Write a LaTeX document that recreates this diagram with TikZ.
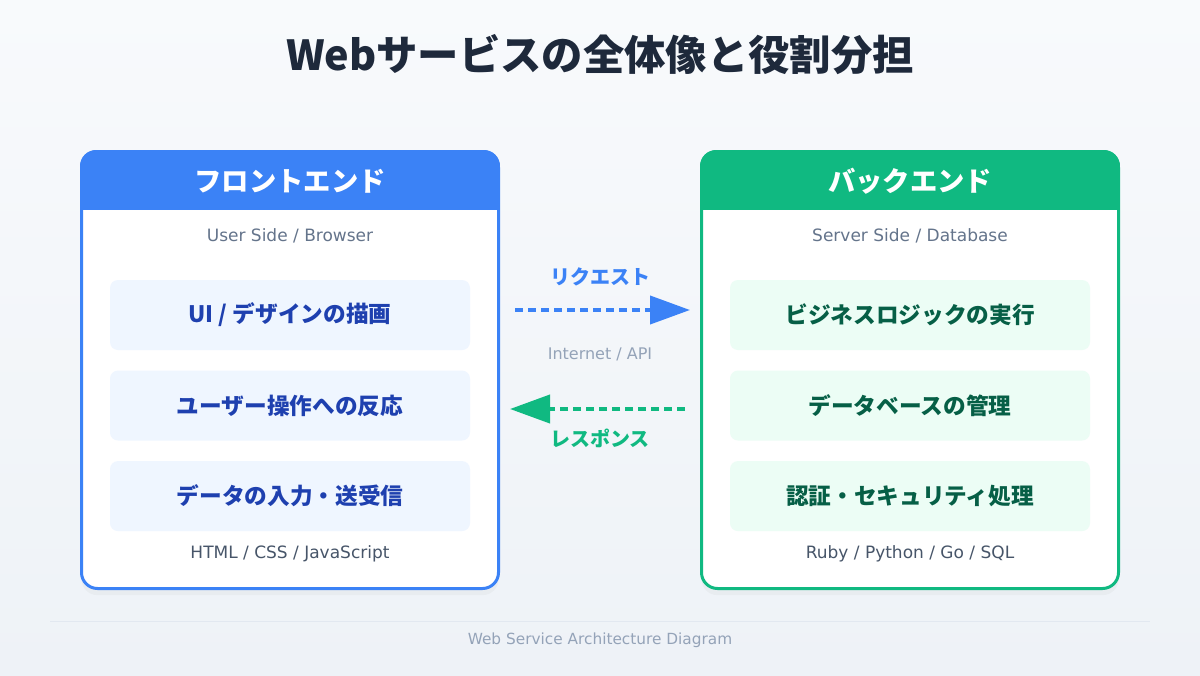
\documentclass[tikz,border=0pt]{standalone}
\usepackage{fontspec}
\setmainfont{Noto Sans CJK JP}
\newfontfamily\latinfont{DejaVu Sans}
\usetikzlibrary{arrows.meta, positioning, shadows}
\definecolor{PageBg}{HTML}{EEF2F7}
\definecolor{PageBgLight}{HTML}{F8FAFC}
\definecolor{Ink}{HTML}{1E293B}
\definecolor{FrontBlue}{HTML}{3B82F6}
\definecolor{FrontTint}{HTML}{EFF6FF}
\definecolor{FrontInk}{HTML}{1E40AF}
\definecolor{BackGreen}{HTML}{10B981}
\definecolor{BackTint}{HTML}{ECFDF5}
\definecolor{BackInk}{HTML}{065F46}
\definecolor{Slate}{HTML}{64748B}
\definecolor{SlateDark}{HTML}{475569}
\definecolor{SlateLight}{HTML}{94A3B8}
\definecolor{RuleGray}{HTML}{E2E8F0}

\tikzset{
  card/.style={draw=#1, line width=2.25pt, fill=white, rounded corners=12pt,
    minimum width=312.75pt, minimum height=327.75pt,
    drop shadow={opacity=0.06, shadow xshift=0pt, shadow yshift=-5pt}},
  headtext/.style={text=white, font=\fontsize{20.5}{24}\selectfont\bfseries},
  taskbox/.style={fill=#1, rounded corners=6pt, minimum width=270pt, minimum height=52.5pt,
    font=\fontsize{17}{20}\selectfont\bfseries},
  subnote/.style={font=\latinfont\fontsize{12.75}{15}\selectfont},
  flow/.style={line width=3pt, dash pattern=on 6pt off 3.75pt,
    -{Triangle[length=30pt, width=21pt]}},
}

\begin{document}
\begin{tikzpicture}[x=0.75pt, y=-0.75pt]
\shade[top color=PageBgLight, bottom color=PageBg] (0,0) rectangle (1200,675);
\useasboundingbox (0,0) rectangle (1200,675);

\node[font=\fontsize{31}{36}\selectfont\bfseries, text=Ink] (title) at (600,55) {Webサービスの全体像と役割分担};

% frontend
\node[card=FrontBlue] (front) at (290,370) {};
\begin{scope}
  \clip[rounded corners=12pt] (front.south west) rectangle (front.north east);
  \fill[FrontBlue] (front.north west) rectangle ([yshift=-45pt]front.north east);
\end{scope}
\node[headtext] (fronthead) at (290,181) {フロントエンド};
\node[subnote, text=Slate] (frontside) at (290,236) {User Side / Browser};
\node[taskbox=FrontTint, text=FrontInk] (f1) at (290,315) {UI / デザインの描画};
\node[taskbox=FrontTint, text=FrontInk, below=15pt of f1] (f2) {ユーザー操作への反応};
\node[taskbox=FrontTint, text=FrontInk, below=15pt of f2] (f3) {データの入力・送受信};
\node[subnote, text=SlateDark] (fronttech) at (290,554) {HTML / CSS / JavaScript};

% backend
\node[card=BackGreen] (back) at (910,370) {};
\begin{scope}
  \clip[rounded corners=12pt] (back.south west) rectangle (back.north east);
  \fill[BackGreen] (back.north west) rectangle ([yshift=-45pt]back.north east);
\end{scope}
\node[headtext] (backhead) at (910,181) {バックエンド};
\node[subnote, text=Slate] (backside) at (910,236) {Server Side / Database};
\node[taskbox=BackTint, text=BackInk] (b1) at (910,315) {ビジネスロジックの実行};
\node[taskbox=BackTint, text=BackInk, below=15pt of b1] (b2) {データベースの管理};
\node[taskbox=BackTint, text=BackInk, below=15pt of b2] (b3) {認証・セキュリティ処理};
\node[subnote, text=SlateDark] (backtech) at (910,554) {Ruby / Python / Go / SQL};

% request / response
\draw[flow, FrontBlue] ([shift={(15,-60)}]front.east) -- ([shift={(-10,-60)}]back.west);
\draw[flow, BackGreen] ([shift={(-15,39)}]back.west) -- ([shift={(10,39)}]front.east);
\node[font=\fontsize{15}{18}\selectfont\bfseries, text=FrontBlue] (reqlabel) at (600,277) {リクエスト};
\node[font=\latinfont\fontsize{12}{14}\selectfont, text=SlateLight] (net) at (600,354) {Internet / API};
\node[font=\fontsize{15}{18}\selectfont\bfseries, text=BackGreen] (reslabel) at (600,438) {レスポンス};

\draw[RuleGray, line width=0.75pt] (50,621) -- (1150,621);
\node[font=\latinfont\fontsize{11.5}{14}\selectfont, text=SlateLight] (footer) at (600,640) {Web Service Architecture Diagram};
\end{tikzpicture}
\end{document}
